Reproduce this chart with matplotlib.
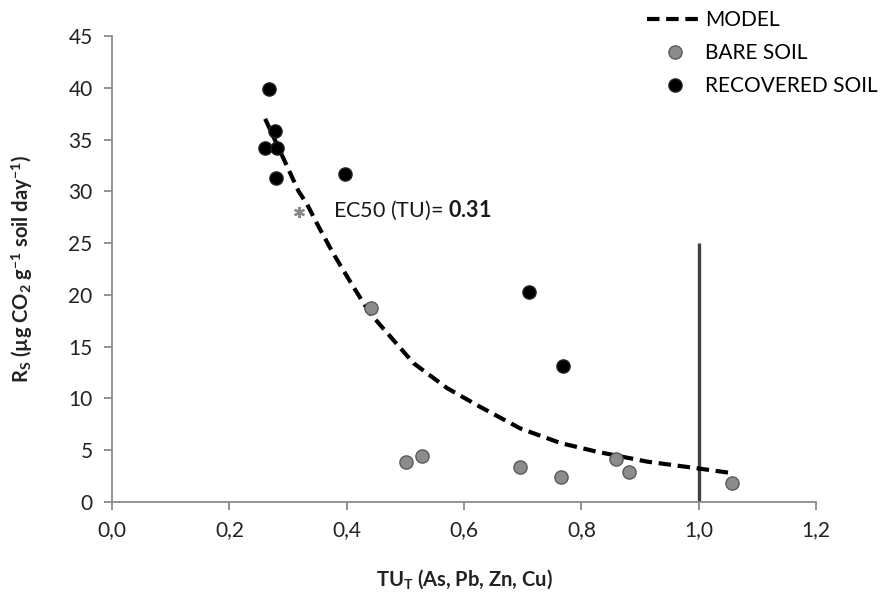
import numpy as np
import matplotlib.pyplot as plt

plt.rcParams['font.family'] = ['Lato', 'DejaVu Sans']
plt.rcParams['mathtext.fontset'] = 'custom'
plt.rcParams['mathtext.rm'] = 'Lato'
plt.rcParams['mathtext.bf'] = 'Lato:bold'
plt.rcParams['mathtext.it'] = 'Lato:italic'

# fitted model curve
model_x = [0.261, 0.292, 0.318, 0.332, 0.352, 0.377, 0.411, 0.440, 0.474,
           0.514, 0.571, 0.627, 0.696, 0.764, 0.826, 0.912, 0.998, 1.059]
model_y = [37.0, 33.2, 30.0, 28.8, 26.6, 24.0, 20.8, 18.2, 16.0,
           13.4, 11.0, 9.2, 7.1, 5.7, 4.86, 3.9, 3.25, 2.77]

# bare soil samples
bare_x = [0.442, 0.501, 0.528, 0.696, 0.765, 0.859, 0.882, 1.057]
bare_y = [18.7, 3.9, 4.4, 3.35, 2.45, 4.2, 2.85, 1.8]

# recovered soil samples
rec_x = [0.267, 0.278, 0.261, 0.282, 0.279, 0.397, 0.710, 0.768]
rec_y = [39.9, 35.8, 34.2, 34.2, 31.3, 31.7, 20.3, 13.1]

# EC50 point
ec50_x = [0.319]
ec50_y = [28.0]
ec50_val = 0.31

fig = plt.figure(figsize=(8.85, 6.03), dpi=100)
ax = fig.add_axes([0.1266, 0.1675, 0.7955, 0.7728])

ax.plot(model_x, model_y, color='black', lw=3, ls=(0, (3, 1.6)), label='MODEL', zorder=3)
ax.plot(bare_x, bare_y, 'o', ms=9.5, mfc='#8c8c8c', mec='#5a5a5a', mew=1,
        label='BARE SOIL', zorder=4)
ax.plot(rec_x, rec_y, 'o', ms=9.5, mfc='black', mec='#222222', mew=1,
        label='RECOVERED SOIL', zorder=4)
ax.plot(ec50_x, ec50_y, marker=(6, 2, 0), ms=8, color='#888888', mew=1.5, ls='none', zorder=4)

ax.vlines(1.0, 0, 25, color='#404040', lw=2.4, zorder=2)

ax.text(0.377, 28.2, r'EC50 (TU)= $\mathbf{%.2f}$' % ec50_val, fontsize=15.5,
        va='center', ha='left', color='#1a1a1a')

ax.set_xlim(0, 1.2)
ax.set_ylim(0, 45)
ticks = np.arange(0, 1.21, 0.2)
ax.set_xticks(ticks)
ax.set_xticklabels([('%.1f' % v).replace('.', ',') for v in ticks])
ax.set_yticks(np.arange(0, 46, 5))

for s in ['top', 'right']:
    ax.spines[s].set_visible(False)
for s in ['left', 'bottom']:
    ax.spines[s].set_color('#8a8a8a')
    ax.spines[s].set_linewidth(1.3)
ax.tick_params(colors='#8a8a8a', width=1.3, length=6, labelsize=15, labelcolor='#222222')
ax.tick_params(axis='x', pad=7)
ax.tick_params(axis='y', pad=8)

ax.set_xlabel(r'TU$_\mathregular{T}$ (As, Pb, Zn, Cu)', fontsize=14.5, fontweight='bold',
              color='#222222', labelpad=20)
ax.set_ylabel(r'R$_\mathregular{S}$ (µg CO$_\mathregular{2}$ g$^\mathregular{-1}$ soil day$^\mathregular{-1}$)',
              fontsize=14.5, fontweight='bold', color='#222222', labelpad=24)

fig.legend(loc='upper right', bbox_to_anchor=(1.006, 1.004), frameon=False, fontsize=15,
           handlelength=2.7, handletextpad=0.1, labelspacing=0.62, borderaxespad=0.2)

fig.savefig('out.png', dpi=100)
